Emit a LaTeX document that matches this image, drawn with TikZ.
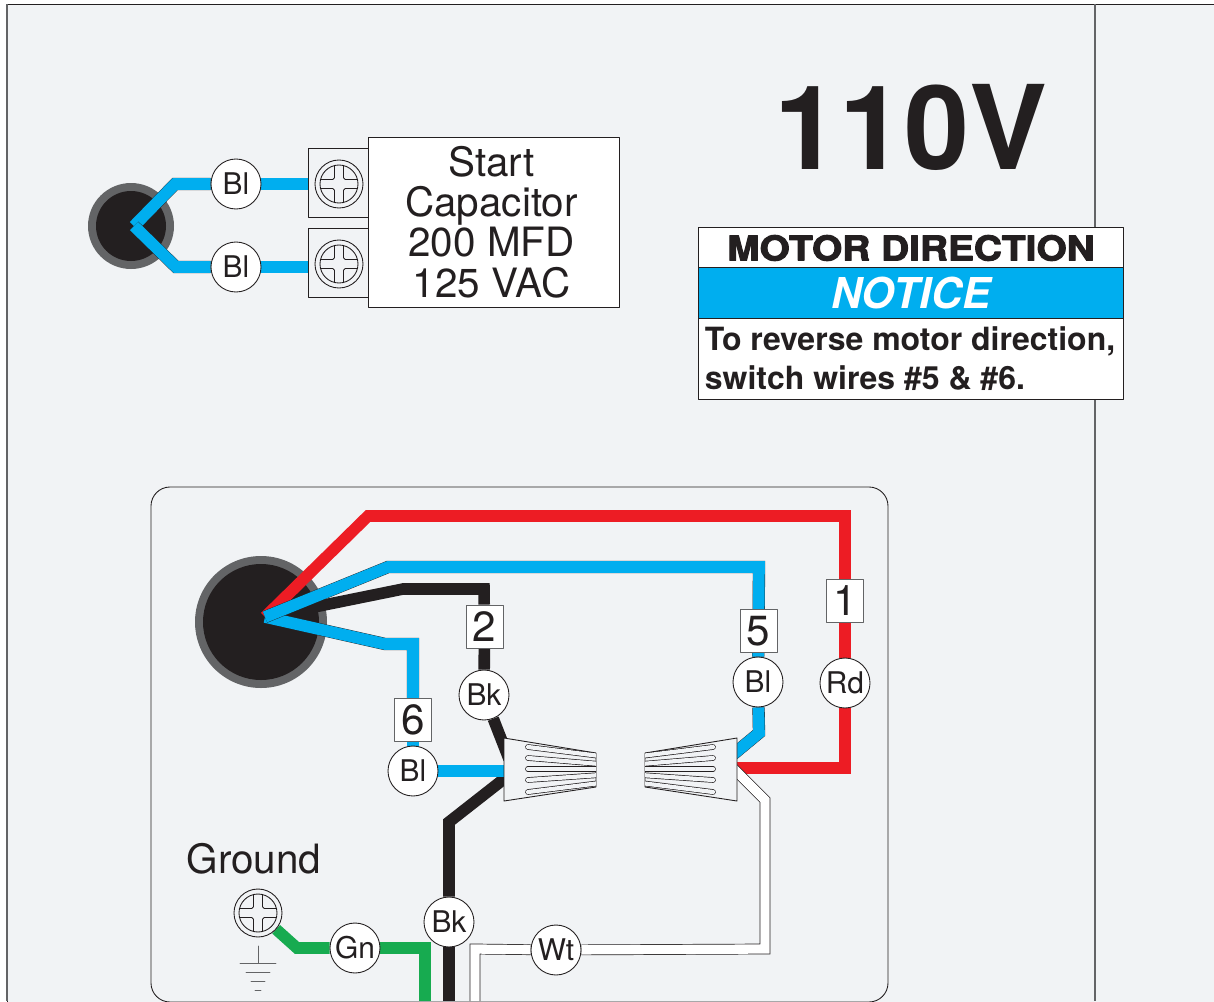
\documentclass[tikz,border=0pt]{standalone}
\usepackage{fontspec}
\setmainfont{TeX Gyre Heros}
\newfontfamily\heavyfont[BoldFeatures={FakeBold=3,FakeStretch=1.14}]{TeX Gyre Heros}
\definecolor{panelbg}{HTML}{F1F3F5}
\definecolor{inkdark}{HTML}{231F20}
\definecolor{ringgray}{HTML}{636466}
\definecolor{wireblue}{HTML}{00AEEF}
\definecolor{wirered}{HTML}{ED1C24}
\definecolor{wiregreen}{HTML}{17AB50}
\pgfdeclarelayer{wires}
\pgfsetlayers{wires,main}
\tikzset{
	thinline/.style={draw=inkdark,line width=.5pt},
	lbl/.style={circle,thinline,fill=white,minimum size=50*0.02cm,inner sep=0pt,font=\fontsize{17}{17}\selectfont},
	numbox/.style={rectangle,draw=ringgray,line width=.5pt,fill=white,minimum width=37*0.02cm,minimum height=43*0.02cm,inner sep=0pt,font=\fontsize{24}{24}\selectfont},
	screwhead/.style={circle,thinline,fill=panelbg,minimum size=48*0.02cm,inner sep=0pt},
	bluewire/.style={draw=inkdark,double=wireblue,line width=.2pt,double distance=6.6pt},
	whitewire/.style={draw=inkdark,double=white,line width=.4pt,double distance=5.3pt},
	blackwire/.style={draw=inkdark,line width=6.6pt},
	redwire/.style={draw=wirered,line width=6.6pt},
	greenwire/.style={draw=wiregreen,line width=6.6pt},
	bigtext/.style={align=center,font=\fontsize{23}{23}\selectfont},
	screwcross/.pic={
		\draw[thinline] (0,0) circle (19);
		\foreach \r in {0,90,180,270}
			\draw[thinline,rotate=\r,rounded corners=1pt] (4.5,18.5)--(4.5,4.5)--(18.5,4.5);
	},
	wirenut/.pic={
		\draw[draw=inkdark,line width=.5pt,fill=panelbg] (-46,-32)--(46,-17)--(46,17)--(-46,31)--cycle;
		\begin{scope}
			\clip (-46,-32)--(46,-17)--(46,17)--(-46,31)--cycle;
			\foreach \a/\b in {-23/-14,-12/-6,-1/-1,10/5,22/13}
				\draw[draw=inkdark,double=panelbg,line width=.4pt,double distance=2.4pt,line cap=round] (-22,\a)--(50,\b);
		\end{scope}
	},
}
\begin{document}
\begin{tikzpicture}[x=0.02cm,y=-0.02cm,line join=round,line cap=round,text=inkdark]
	\useasboundingbox (0,0) rectangle (1214,1001);

	\node[rectangle,thinline,fill=panelbg,minimum width=60*0.02cm,minimum height=69*0.02cm,inner sep=0pt] (termA) at (338,182.5) {};
	\node[rectangle,thinline,fill=panelbg,minimum width=60*0.02cm,minimum height=69*0.02cm,inner sep=0pt] (termB) at (338,262.5) {};
	\node[screwhead] (screwA) at (339,184) {};
	\pic at (screwA) {screwcross};
	\node[screwhead] (screwB) at (339,264) {};
	\pic at (screwB) {screwcross};
	\node[rectangle,thinline,fill=white,minimum width=251*0.02cm,minimum height=170*0.02cm,inner sep=0pt] (cap) at (493.5,222) {};
	\node[bigtext] (captext) at (491.5,222) {Start\\Capacitor\\200 MFD\\125 VAC};
	\node[lbl] (blA) at (236,184) {Bl};
	\node[lbl] (blB) at (236,267) {Bl};

	\node[font=\fontsize{66.5}{66.5}\selectfont\bfseries] (volt) at (911,127) {110V};

	\node[rectangle,thinline,fill=white,minimum width=425.5*0.02cm,minimum height=172*0.02cm,inner sep=0pt] (sign) at (910.7,313) {};
	\node[rectangle,thinline,fill=wireblue,minimum width=425.5*0.02cm,minimum height=51*0.02cm,inner sep=0pt,text=white,font=\fontsize{24.2}{24.2}\selectfont\bfseries\itshape] (notice) at (910.7,292.5) {NOTICE};
	\node[font=\heavyfont\fontsize{19.4}{19.4}\selectfont\bfseries] (motor) at (911,248) {MOTOR DIRECTION};
	\node[anchor=west,align=left,inner sep=0pt,font=\fontsize{18.2}{22.1}\selectfont\bfseries] (revtext) at (704.5,359) {To reverse motor direction,\\switch wires \#5 \& \#6.};

	\node[numbox] (numA) at (845,601) {1};
	\node[numbox] (numB) at (484.5,626.5) {2};
	\node[numbox] (numE) at (758.5,631) {5};
	\node[numbox] (numF) at (413,720) {6};
	\node[lbl] (rd) at (845,683) {Rd};
	\node[lbl] (blE) at (758,682) {Bl};
	\node[lbl] (bkB) at (484,695) {Bk};
	\node[lbl] (blF) at (413,771) {Bl};
	\node[lbl] (bkA) at (449,922) {Bk};
	\node[lbl] (gn) at (355,948) {Gn};
	\node[lbl] (wt) at (556,950) {Wt};

	\pic at (550,770) {wirenut};
	\pic[xscale=-1] at (691,770) {wirenut};
	\coordinate (nutL) at (510,771);
	\coordinate (nutLa) at (509,759);
	\coordinate (nutLb) at (509,775);
	\coordinate (nutRa) at (730,757);
	\coordinate (nutRb) at (730,768);
	\coordinate (nutRc) at (732,767);

	\node[bigtext] (gnd) at (254,859) {Ground};
	\node[screwhead] (screwG) at (258,913) {};
	\pic at (screwG) {screwcross};
	\coordinate (earth) at (258,946);
	\draw[draw=ringgray,line width=.5pt] (earth)--(258,963) (240,963)--(276,963) (246,972)--(270,972) (251,981)--(265,981) (255,990)--(261,990);

	\begin{pgfonlayer}{wires}
		\fill[white] (0,0) rectangle (1214,1001);
		\draw[thinline,fill=panelbg] (7,1005)--(7,4)--(1220,4)--(1220,1005)--cycle;
		\draw[draw=ringgray,line width=.8pt] (7,4)--(7,1001);
		\draw[draw=ringgray,line width=.6pt] (1095,4)--(1095,1001);
		\draw[thinline,rounded corners=19*0.02cm] (151,1002)--(151,487)--(888,487)--(888,1002)--cycle;

		\fill[ringgray] (131,226) circle (43);
		\fill[inkdark] (131,226) circle (35);
		\coordinate (hubA) at (134,226);
		\draw[bluewire] (hubA)--(175,184)--(blA);
		\draw[bluewire] (blA)--(blA-|screwA);
		\draw[bluewire] (hubA)--(176,267)--(blB);
		\draw[bluewire] (blB)--(blB-|screwB);

		\fill[ringgray] (261,622) circle (66);
		\fill[inkdark] (261,622) circle (58);
		\coordinate (hubB) at (265,617);
		\draw[blackwire] (hubB)--(403,589)--(484,589)--(numB);
		\draw[blackwire] (numB)--(bkB);
		\draw[blackwire] (bkB)--(nutLa);
		\draw[blackwire] (nutLb)--(449,822)--(bkA);
		\draw[blackwire] (bkA)--(449,1001);
		\draw[redwire] (hubB)--(368,516)--(845,516)--(numA);
		\draw[redwire] (numA)--(rd);
		\draw[redwire] (rd)--(845,768)--(nutRb);
		\draw[bluewire] (hubB)--(385,644)--(413,644)--(numF);
		\draw[bluewire] (numF)--(blF);
		\draw[bluewire] (blF)--(nutL);
		\draw[bluewire] (hubB)--(388,567)--(759,567)--(numE);
		\draw[bluewire] (numE)--(blE);
		\draw[bluewire] (blE)--(759,733)--(nutRa);
		\draw[whitewire] (nutRc)--(765,800)--(765,949)--(wt);
		\draw[whitewire] (wt)--(475,949)--(475,1001);
		\draw[greenwire] (screwG)--(297,948)--(gn);
		\draw[greenwire] (gn)--(425,948)--(425,1001);
	\end{pgfonlayer}
\end{tikzpicture}
\end{document}
